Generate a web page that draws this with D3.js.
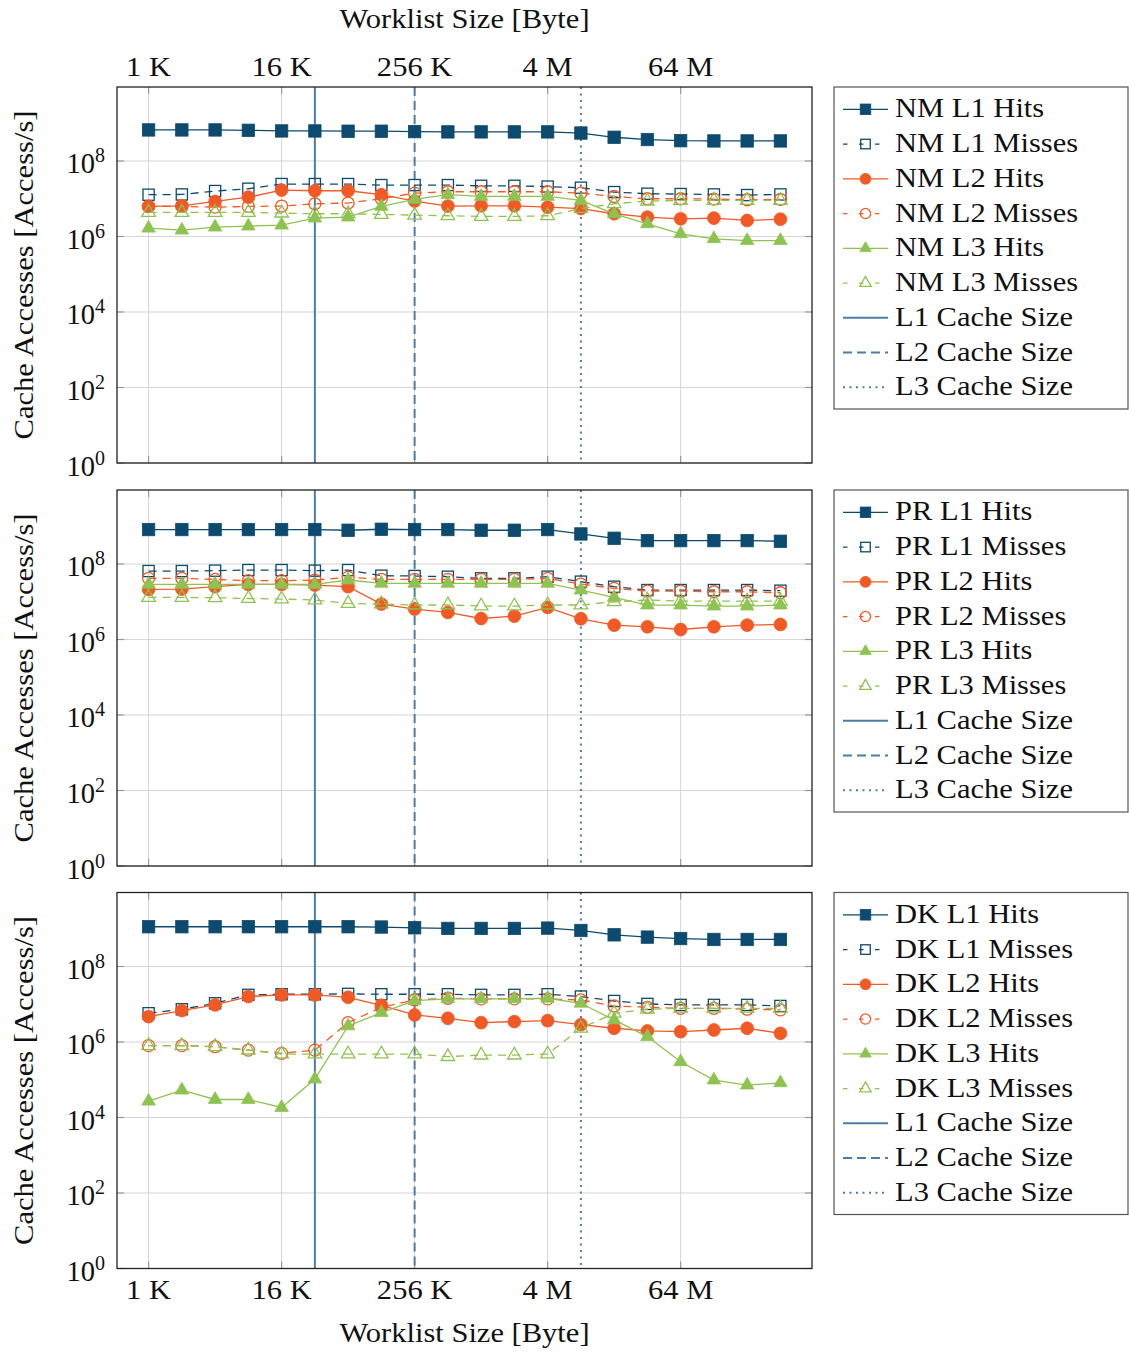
<!DOCTYPE html>
<html>
<head>
<meta charset="utf-8">
<script src="https://cdn.jsdelivr.net/npm/d3@7"></script>
<style>
	body { margin: 0; background: #fff; }
	text { font-family: "Liberation Serif", "Times New Roman", serif; fill: #111; }
</style>
</head>
<body>
<svg id="chart" width="1129" height="1352"></svg>
<script>
// worklist sizes in bytes (1 K .. 512 M)
const sizes = [1024, 2048, 4096, 8192, 16384, 32768, 65536, 131072, 262144, 524288,
	1048576, 2097152, 4194304, 8388608, 16777216, 33554432, 67108864, 134217728, 268435456, 536870912];

const xTickValues = [1024, 16384, 262144, 4194304, 67108864];
const xTickLabels = ["1 K", "16 K", "256 K", "4 M", "64 M"];
const yTickExps = [0, 2, 4, 6, 8];

// cache sizes: L1, L2, L3
const cacheSizes = [32768, 262144, 8388608];
const cacheNames = ["L1 Cache Size", "L2 Cache Size", "L3 Cache Size"];

// NM
const nmL1Hits = [6.65e8, 6.65e8, 6.65e8, 6.5e8, 6.25e8, 6.25e8, 6.15e8, 6.15e8, 6.0e8, 5.9e8, 5.9e8, 5.9e8, 5.9e8, 5.5e8, 4.25e8, 3.7e8, 3.45e8, 3.4e8, 3.4e8, 3.4e8];
const nmL1Misses = [1.28e7, 1.3e7, 1.6e7, 1.84e7, 2.45e7, 2.45e7, 2.45e7, 2.3e7, 2.3e7, 2.3e7, 2.2e7, 2.2e7, 2.1e7, 1.96e7, 1.5e7, 1.36e7, 1.33e7, 1.3e7, 1.25e7, 1.3e7];
const nmL2Hits = [6.25e6, 6.5e6, 8.5e6, 1.1e7, 1.7e7, 1.63e7, 1.63e7, 1.28e7, 8.7e6, 6.4e6, 6.5e6, 6.5e6, 6.0e6, 5.5e6, 4.0e6, 3.26e6, 2.94e6, 3.07e6, 2.66e6, 2.88e6];
const nmL2Misses = [6.25e6, 6.25e6, 6.0e6, 6.25e6, 6.4e6, 7.35e6, 7.7e6, 1.0e7, 1.41e7, 1.53e7, 1.53e7, 1.53e7, 1.53e7, 1.41e7, 1.15e7, 1.0e7, 1.0e7, 9.8e6, 9.4e6, 9.6e6];
const nmL3Hits = [1.66e6, 1.47e6, 1.77e6, 1.88e6, 2.0e6, 3.07e6, 3.26e6, 6.25e6, 9.6e6, 1.28e7, 1.15e7, 1.15e7, 1.15e7, 9.0e6, 4.0e6, 2.17e6, 1.18e6, 8.7e5, 7.8e5, 7.8e5];
const nmL3Misses = [4.34e6, 4.34e6, 4.34e6, 4.34e6, 4.16e6, 4.0e6, 4.0e6, 3.84e6, 3.68e6, 3.54e6, 3.4e6, 3.4e6, 3.54e6, 5.53e6, 7.36e6, 8.67e6, 9.0e6, 9.0e6, 9.0e6, 9.0e6];

// PR
const prL1Hits = [8.17e8, 8.17e8, 8.17e8, 8.17e8, 8.17e8, 8.17e8, 7.83e8, 8.32e8, 8.17e8, 8.17e8, 7.83e8, 7.83e8, 8.17e8, 6.25e8, 4.8e8, 4.16e8, 4.16e8, 4.16e8, 4.16e8, 4.0e8];
const prL1Misses = [6.5e7, 6.5e7, 6.65e7, 6.9e7, 6.9e7, 6.65e7, 6.9e7, 4.9e7, 4.8e7, 4.6e7, 4.16e7, 4.16e7, 4.6e7, 3.4e7, 2.5e7, 2.04e7, 2.04e7, 2.04e7, 2.04e7, 1.96e7];
const prL2Hits = [2.12e7, 2.17e7, 2.5e7, 2.88e7, 2.88e7, 2.77e7, 2.5e7, 8.7e6, 6.4e6, 5.2e6, 3.6e6, 4.16e6, 7.1e6, 3.54e6, 2.4e6, 2.17e6, 1.84e6, 2.17e6, 2.4e6, 2.5e6];
const prL2Misses = [4.16e7, 4.16e7, 3.92e7, 3.61e7, 3.61e7, 3.76e7, 4.43e7, 3.92e7, 3.92e7, 3.92e7, 3.92e7, 3.92e7, 4.16e7, 2.94e7, 2.26e7, 1.92e7, 1.92e7, 1.84e7, 1.84e7, 1.73e7];
const prL3Hits = [2.88e7, 2.88e7, 2.88e7, 2.88e7, 2.88e7, 2.88e7, 3.76e7, 3.07e7, 3.07e7, 3.07e7, 3.07e7, 3.07e7, 3.07e7, 2.04e7, 1.3e7, 8.17e6, 8.17e6, 7.67e6, 7.67e6, 8.17e6];
const prL3Misses = [1.3e7, 1.3e7, 1.28e7, 1.22e7, 1.18e7, 1.11e7, 9.0e6, 8.7e6, 8.2e6, 8.2e6, 7.7e6, 7.7e6, 8.2e6, 8.2e6, 1.0e7, 1.11e7, 1.04e7, 1.04e7, 1.04e7, 1.04e7];

// DK
const dkL1Hits = [1.13e9, 1.13e9, 1.13e9, 1.13e9, 1.13e9, 1.13e9, 1.13e9, 1.11e9, 1.06e9, 1.02e9, 1.02e9, 1.02e9, 1.04e9, 9.0e8, 6.9e8, 6.0e8, 5.5e8, 5.2e8, 5.2e8, 5.2e8];
const dkL1Misses = [5.77e6, 7.36e6, 1.06e7, 1.77e7, 1.84e7, 1.84e7, 1.88e7, 1.84e7, 1.84e7, 1.84e7, 1.77e7, 1.77e7, 1.84e7, 1.6e7, 1.22e7, 1.02e7, 9.6e6, 9.6e6, 9.6e6, 9.0e6];
const dkL2Hits = [4.7e6, 6.8e6, 9.6e6, 1.6e7, 1.77e7, 1.77e7, 1.53e7, 9.4e6, 5.2e6, 4.25e6, 3.26e6, 3.47e6, 3.68e6, 2.88e6, 2.31e6, 1.96e6, 1.88e6, 2.08e6, 2.31e6, 1.7e6];
const dkL2Misses = [8.0e5, 8.0e5, 7.5e5, 6.1e5, 5.0e5, 6.1e5, 3.26e6, 8.3e6, 1.3e7, 1.44e7, 1.39e7, 1.39e7, 1.39e7, 1.3e7, 9.0e6, 8.3e6, 7.8e6, 7.8e6, 7.4e6, 7.1e6];
const dkL3Hits = [2.7e4, 5.3e4, 3.0e4, 3.0e4, 1.84e4, 1.04e5, 2.66e6, 6.0e6, 1.25e7, 1.39e7, 1.39e7, 1.39e7, 1.44e7, 1.06e7, 3.84e6, 1.39e6, 3.0e5, 9.8e4, 7.2e4, 8.3e4];
const dkL3Misses = [8.0e5, 8.0e5, 7.5e5, 6.1e5, 4.8e5, 4.8e5, 4.8e5, 4.8e5, 4.8e5, 4.1e5, 4.5e5, 4.5e5, 4.8e5, 2.31e6, 5.77e6, 7.36e6, 7.8e6, 7.8e6, 7.8e6, 7.8e6];

const seriesNames = ["L1 Hits", "L1 Misses", "L2 Hits", "L2 Misses", "L3 Hits", "L3 Misses"];

const BLUE = "#0d4a6f", ORANGE = "#f15a24", GREEN = "#8fc351", CACHE = "#4c7da6";
const styles = [
	{color: BLUE, dash: null, shape: "square", fill: true},
	{color: BLUE, dash: "8,6", shape: "square", fill: false},
	{color: ORANGE, dash: null, shape: "circle", fill: true},
	{color: ORANGE, dash: "8,6", shape: "circle", fill: false},
	{color: GREEN, dash: null, shape: "triangle", fill: true},
	{color: GREEN, dash: "8,6", shape: "triangle", fill: false}
];
const cacheDash = [null, "9,5", "2,4.5"];

const panels = [
	{prefix: "NM", top: 87, data: [nmL1Hits, nmL1Misses, nmL2Hits, nmL2Misses, nmL3Hits, nmL3Misses]},
	{prefix: "PR", top: 490, data: [prL1Hits, prL1Misses, prL2Hits, prL2Misses, prL3Hits, prL3Misses]},
	{prefix: "DK", top: 892.5, data: [dkL1Hits, dkL1Misses, dkL2Hits, dkL2Misses, dkL3Hits, dkL3Misses]}
];

const left = 117, right = 812, plotH = 376;
const svg = d3.select("#chart");

// x: log2 axis, enlarged by 5% on each side
const lx0 = Math.log2(d3.min(sizes)), lx1 = Math.log2(d3.max(sizes));
const pad = (lx1 - lx0) * 0.05;
const x = d3.scaleLog().base(2).domain([Math.pow(2, lx0 - pad), Math.pow(2, lx1 + pad)]).range([left, right]);

// the serif fallback is narrower than the original font: stretch a bit
function widen(sel) {
	const w = sel.node().getComputedTextLength();
	sel.attr("textLength", w * 1.09).attr("lengthAdjust", "spacingAndGlyphs");
	return sel;
}

function marker(g, shape, cx, cy, color, fill, s) {
	s = s || 1;
	if (shape === "square") {
		const h = (fill ? 6.2 : 5.6) * s;
		g.append("rect").attr("x", cx - h).attr("y", cy - h).attr("width", 2 * h).attr("height", 2 * h)
			.attr("fill", fill ? color : "none").attr("stroke", color).attr("stroke-width", fill ? 0.8 : 1.3);
	} else if (shape === "circle") {
		g.append("circle").attr("cx", cx).attr("cy", cy).attr("r", (fill ? 6.4 : 6) * s)
			.attr("fill", fill ? color : "none").attr("stroke", color).attr("stroke-width", fill ? 0.8 : 1.3);
	} else {
		const r = 7.8 * s;
		const pts = [[cx, cy - r], [cx + r * 0.866, cy + r * 0.5], [cx - r * 0.866, cy + r * 0.5]];
		g.append("path").attr("d", "M" + pts.map(p => p.join(",")).join("L") + "Z")
			.attr("fill", fill ? color : "none").attr("stroke", color).attr("stroke-width", fill ? 0.8 : 1.3);
	}
}

panels.forEach((p, pi) => {
	const top = p.top, bottom = top + plotH;
	const y = d3.scaleLog().domain([1, Math.pow(10, 9.96)]).range([bottom, top]);
	const g = svg.append("g");

	// grid
	g.selectAll(".gx").data(xTickValues).enter().append("line")
		.attr("x1", d => x(d)).attr("x2", d => x(d)).attr("y1", top).attr("y2", bottom)
		.attr("stroke", "#d4d4d4").attr("stroke-width", 1);
	g.selectAll(".gy").data(yTickExps).enter().append("line")
		.attr("x1", left).attr("x2", right).attr("y1", d => y(Math.pow(10, d))).attr("y2", d => y(Math.pow(10, d)))
		.attr("stroke", "#d4d4d4").attr("stroke-width", 1);

	// tick marks
	xTickValues.forEach(v => {
		g.append("line").attr("x1", x(v)).attr("x2", x(v)).attr("y1", top).attr("y2", top + 7).attr("stroke", "#999").attr("stroke-width", 1.2);
		g.append("line").attr("x1", x(v)).attr("x2", x(v)).attr("y1", bottom).attr("y2", bottom - 7).attr("stroke", "#999").attr("stroke-width", 1.2);
	});
	yTickExps.forEach(e => {
		const yy = y(Math.pow(10, e));
		g.append("line").attr("x1", left).attr("x2", left + 7).attr("y1", yy).attr("y2", yy).attr("stroke", "#999").attr("stroke-width", 1.2);
		g.append("line").attr("x1", right).attr("x2", right - 7).attr("y1", yy).attr("y2", yy).attr("stroke", "#999").attr("stroke-width", 1.2);
		const t = g.append("text").attr("x", 105).attr("y", yy + 12.5).attr("text-anchor", "end").attr("font-size", 28.5);
		t.append("tspan").text("10");
		t.append("tspan").attr("font-size", 20).attr("dy", -11).text(e);
	});

	// cache size lines
	cacheSizes.forEach((c, i) => {
		g.append("line").attr("x1", x(c)).attr("x2", x(c)).attr("y1", top).attr("y2", bottom)
			.attr("stroke", CACHE).attr("stroke-width", 2).attr("stroke-dasharray", cacheDash[i]);
	});

	// series
	const line = d3.line().x((d, i) => x(sizes[i])).y(d => y(d));
	p.data.forEach((vals, si) => {
		const st = styles[si];
		const sg = g.append("g");
		sg.append("path").attr("d", line(vals)).attr("fill", "none").attr("stroke", st.color)
			.attr("stroke-width", 1.3).attr("stroke-dasharray", st.dash);
		vals.forEach((v, i) => marker(sg, st.shape, x(sizes[i]), y(v), st.color, st.fill));
	});

	// frame
	g.append("rect").attr("x", left).attr("y", top).attr("width", right - left).attr("height", plotH)
		.attr("fill", "none").attr("stroke", "#222").attr("stroke-width", 1.3);

	// y label
	widen(g.append("text").attr("transform", `translate(33,${(top + bottom) / 2}) rotate(-90)`)
		.attr("text-anchor", "middle").attr("font-size", 28).text("Cache Accesses [Access/s]"));

	// x labels
	if (pi === 0) {
		xTickValues.forEach((v, i) => widen(g.append("text").attr("x", x(v)).attr("y", top - 11)
			.attr("text-anchor", "middle").attr("font-size", 28).text(xTickLabels[i])));
		widen(g.append("text").attr("x", (left + right) / 2).attr("y", 28).attr("text-anchor", "middle")
			.attr("font-size", 28).text("Worklist Size [Byte]"));
	}
	if (pi === panels.length - 1) {
		xTickValues.forEach((v, i) => widen(g.append("text").attr("x", x(v)).attr("y", bottom + 30)
			.attr("text-anchor", "middle").attr("font-size", 28).text(xTickLabels[i])));
		widen(g.append("text").attr("x", (left + right) / 2).attr("y", 1342).attr("text-anchor", "middle")
			.attr("font-size", 28).text("Worklist Size [Byte]"));
	}

	// legend
	const lg = g.append("g");
	const rowH = 34.75, firstY = top + 22.3;
	lg.append("rect").attr("x", 834).attr("y", top).attr("width", 294).attr("height", 322)
		.attr("fill", "#fff").attr("stroke", "#555").attr("stroke-width", 1.2);
	const entries = seriesNames.map((n, i) => ({name: p.prefix + " " + n, st: styles[i], cache: -1}))
		.concat(cacheNames.map((n, i) => ({name: n, st: null, cache: i})));
	entries.forEach((e, i) => {
		const cy = firstY + i * rowH;
		if (e.cache < 0) {
			lg.append("line").attr("x1", 843).attr("x2", 888).attr("y1", cy).attr("y2", cy)
				.attr("stroke", e.st.color).attr("stroke-width", 1.3).attr("stroke-dasharray", e.st.dash ? "4.5,11.5" : null);
			marker(lg, e.st.shape, 865.5, cy, e.st.color, e.st.fill, 0.85);
		} else {
			lg.append("line").attr("x1", 843).attr("x2", 888).attr("y1", cy).attr("y2", cy)
				.attr("stroke", CACHE).attr("stroke-width", 2).attr("stroke-dasharray", cacheDash[e.cache]);
		}
		widen(lg.append("text").attr("x", 895).attr("y", cy + 8).attr("font-size", 28).text(e.name));
	});
});
</script>
</body>
</html>
